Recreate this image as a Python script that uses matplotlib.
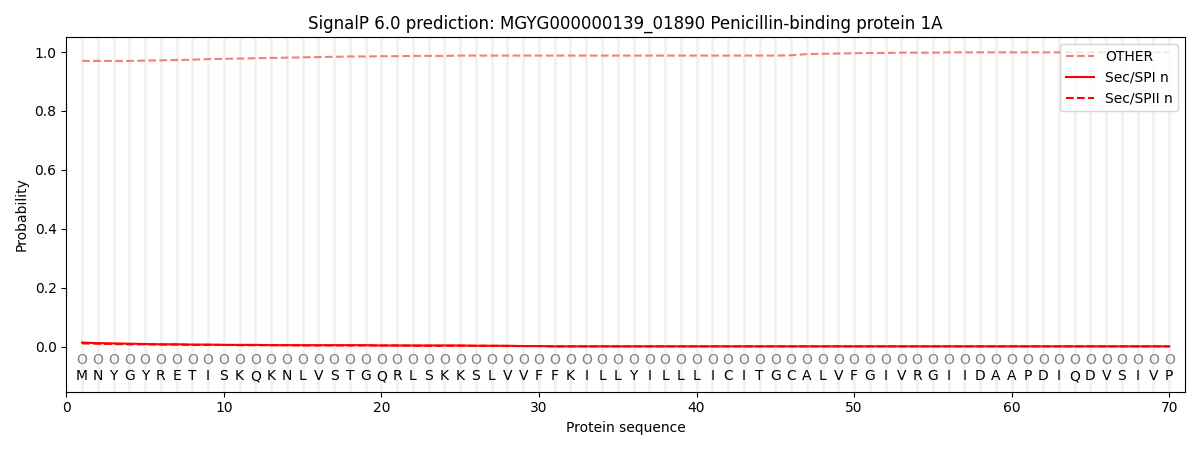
import numpy as np
import matplotlib
matplotlib.use('Agg')
import matplotlib.pyplot as plt

sequence = list("MNYGYRETISKQKNLVSTGQRLSKKSLVVFFKILLYILLLICITGCALVFGIVRGIIDAAPDIQDVSIVP")
positions = np.arange(1, len(sequence) + 1)

# probability of OTHER
other = [0.970, 0.970, 0.970, 0.970, 0.971, 0.972, 0.973, 0.974, 0.976, 0.977,
         0.978, 0.979, 0.980, 0.981, 0.982, 0.983, 0.984, 0.985, 0.985, 0.986,
         0.986, 0.987, 0.987, 0.987, 0.988, 0.988, 0.988, 0.988, 0.988, 0.988,
         0.988, 0.988, 0.988, 0.988, 0.988, 0.988, 0.988, 0.988, 0.988, 0.988,
         0.988, 0.988, 0.988, 0.988, 0.988, 0.989, 0.993, 0.994, 0.995, 0.996,
         0.997, 0.997, 0.998, 0.998, 0.998, 0.999, 0.999, 0.999, 0.999, 0.999,
         0.999, 0.999, 0.999, 0.999, 0.999, 0.999, 0.999, 0.999, 0.999, 0.999]
sec_spi_n = [0.014, 0.012, 0.011, 0.010, 0.009, 0.008, 0.008, 0.007, 0.007, 0.006,
             0.006, 0.006, 0.005, 0.005, 0.005, 0.005, 0.005, 0.005, 0.005, 0.004,
             0.004, 0.004, 0.004, 0.004, 0.004, 0.003, 0.003, 0.003, 0.002, 0.002,
             0.001, 0.001, 0.001, 0.001, 0.001, 0.001, 0.001, 0.001, 0.001, 0.001,
             0.001, 0.001, 0.001, 0.001, 0.001, 0.001, 0.001, 0.001, 0.001, 0.001,
             0.001, 0.001, 0.001, 0.001, 0.001, 0.001, 0.001, 0.001, 0.001, 0.001,
             0.001, 0.001, 0.001, 0.001, 0.001, 0.001, 0.001, 0.001, 0.001, 0.001]
sec_spii_n = [0.011, 0.010, 0.009, 0.008, 0.008, 0.007, 0.007, 0.006, 0.006, 0.006,
              0.005, 0.005, 0.005, 0.005, 0.004, 0.004, 0.004, 0.004, 0.004, 0.004,
              0.004, 0.003, 0.003, 0.003, 0.003, 0.003, 0.003, 0.002, 0.002, 0.002,
              0.001, 0.001, 0.001, 0.001, 0.001, 0.001, 0.001, 0.001, 0.001, 0.001,
              0.001, 0.001, 0.001, 0.001, 0.001, 0.001, 0.001, 0.001, 0.001, 0.001,
              0.001, 0.001, 0.001, 0.001, 0.001, 0.001, 0.001, 0.001, 0.001, 0.001,
              0.001, 0.001, 0.001, 0.001, 0.001, 0.001, 0.001, 0.001, 0.001, 0.001]

fig, ax = plt.subplots(figsize=(12, 4.5), dpi=100)

# light vertical line at every residue
for p in positions:
    ax.axvline(p, color='#f1f1f1', linewidth=2, zorder=0)

ax.plot(positions, other, '--', color='#f08080', label='OTHER')
ax.plot(positions, sec_spi_n, '-', color='red', label='Sec/SPI n')
ax.plot(positions, sec_spii_n, '--', color='red', label='Sec/SPII n')

# residue marks and letters under the curves
for p, aa in zip(positions, sequence):
    ax.text(p, -0.047, 'O', ha='center', va='center', fontsize=10, color='gray')
    ax.text(p, -0.1, aa, ha='center', va='center', fontsize=10)

ax.set_xlim(0, 71)
ax.set_ylim(-0.153, 1.05)
ax.set_xlabel('Protein sequence')
ax.set_ylabel('Probability')
ax.set_title('SignalP 6.0 prediction: MGYG000000139_01890 Penicillin-binding protein 1A')
ax.legend(loc='upper right')

plt.tight_layout()
plt.savefig('out.png')
